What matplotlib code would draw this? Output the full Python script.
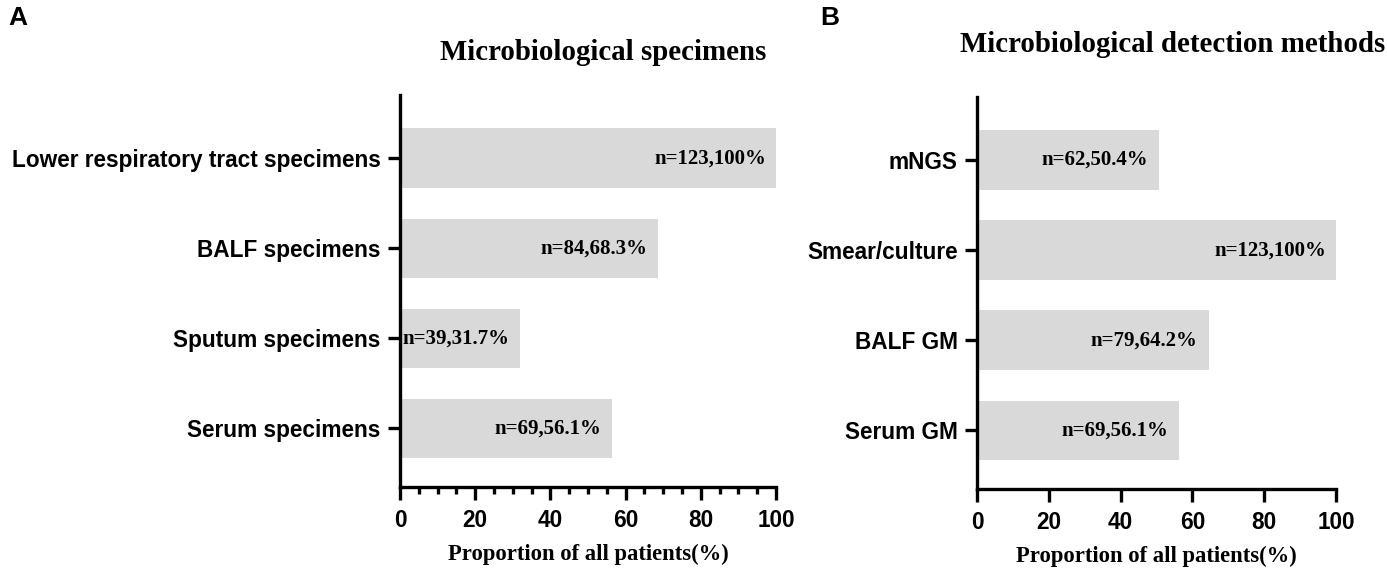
import matplotlib
matplotlib.use('Agg')
import matplotlib.pyplot as plt
import numpy as np
from matplotlib.ticker import MultipleLocator

# panel A data
specimen_names = ['Lower respiratory tract specimens', 'BALF specimens',
                  'Sputum specimens', 'Serum specimens']
specimen_pct = [100, 68.3, 31.7, 56.1]
specimen_labels = ['n=123,100%', 'n=84,68.3%', 'n=39,31.7%', 'n=69,56.1%']

# panel B data
method_names = ['mNGS', 'Smear/culture', 'BALF GM', 'Serum GM']
method_pct = [50.4, 100, 64.2, 56.1]
method_labels = ['n=62,50.4%', 'n=123,100%', 'n=79,64.2%', 'n=69,56.1%']

xticks = [0, 20, 40, 60, 80, 100]

SANS = 'Liberation Sans'
SERIF = 'Liberation Serif'
BAR_COLOR = '#d9d9d9'


def drawPanel(ax, names, pct, labels, minor):
    y_pos = np.arange(len(names))
    ax.barh(y_pos, pct, height=0.66, color=BAR_COLOR, left=0.3)
    for y, v, lab in zip(y_pos, pct, labels):
        ax.annotate(lab, (v, y), xytext=(-7, 0), textcoords='offset points',
                    ha='right', va='center', family=SERIF,
                    fontweight='bold', fontsize=15)
    ax.set_xlim(0, 100)
    ax.set_ylim(3.65, -0.7)
    ax.set_yticks(y_pos)
    ax.set_yticklabels(names, family=SANS, fontweight='bold', fontsize=16.3)
    ax.set_xticks(xticks)
    ax.set_xticklabels([str(t) for t in xticks], family=SANS,
                       fontweight='bold', fontsize=16.3)
    if minor:
        ax.xaxis.set_minor_locator(MultipleLocator(5))
        ax.tick_params(axis='x', which='minor', length=5, width=2.4)
    ax.tick_params(axis='both', which='major', length=9, width=2.4)
    ax.tick_params(axis='x', which='major', pad=7)
    ax.tick_params(axis='y', which='major', pad=5)
    for s in ['top', 'right']:
        ax.spines[s].set_visible(False)
    for s in ['left', 'bottom']:
        ax.spines[s].set_linewidth(2.4)
    ax.set_xlabel('Proportion of all patients(%)', family=SERIF,
                  fontweight='bold', fontsize=16.3, labelpad=8)
    return ax


fig = plt.figure(figsize=(13.87, 5.73), dpi=100)
axA = fig.add_axes([0.2884, 0.150, 0.2711, 0.684])
axB = fig.add_axes([0.7044, 0.1466, 0.2588, 0.6844])

drawPanel(axA, specimen_names, specimen_pct, specimen_labels, True)
drawPanel(axB, method_names, method_pct, method_labels, False)

fig.text(603 / 1387, 1 - 52 / 573, 'Microbiological specimens', family=SERIF,
         fontweight='bold', fontsize=20.8, ha='center', va='center')
fig.text(1173 / 1387, 1 - 45 / 573, 'Microbiological detection methods',
         family=SERIF, fontweight='bold', fontsize=20.8, ha='center', va='center')

fig.text(8 / 1387, 1 - 18 / 573, 'A', family=SANS, fontweight='bold',
         fontsize=19, va='center')
fig.text(820 / 1387, 1 - 18 / 573, 'B', family=SANS, fontweight='bold',
         fontsize=19, va='center')

plt.savefig('out.png', dpi=100)
